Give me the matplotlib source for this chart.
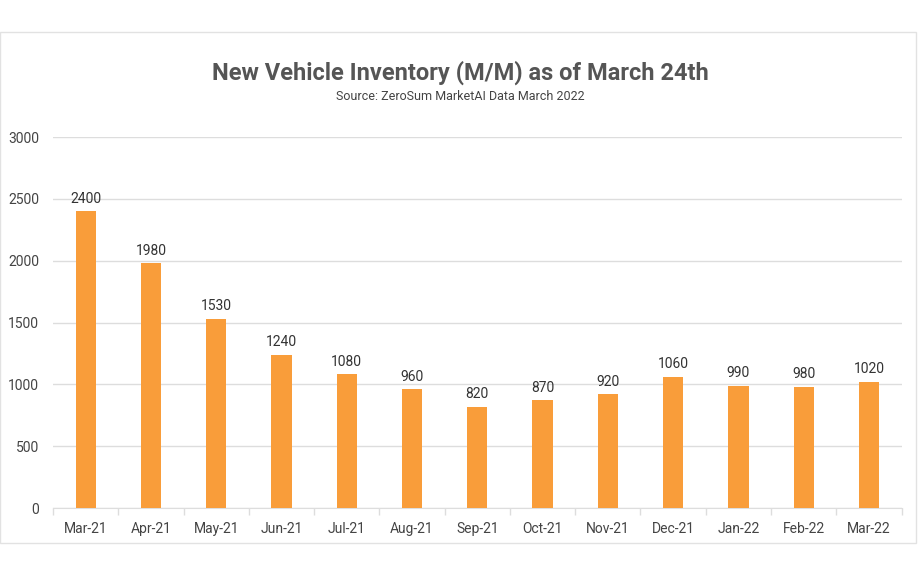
import numpy as np
import matplotlib.pyplot as plt
from matplotlib.patches import Rectangle

plt.rcParams['font.family'] = ['Roboto', 'DejaVu Sans']

# data
months = ["Mar-21", "Apr-21", "May-21", "Jun-21", "Jul-21", "Aug-21", "Sep-21",
          "Oct-21", "Nov-21", "Dec-21", "Jan-22", "Feb-22", "Mar-22"]
inventory = [2400, 1980, 1530, 1240, 1080, 960, 820, 870, 920, 1060, 990, 980, 1020]
y_ticks = [0, 500, 1000, 1500, 2000, 2500, 3000]

BAR = "#F99D3A"
GRID = "#DDDDDD"
TXT = "#444444"

fig = plt.figure(figsize=(9.2, 5.75), dpi=100, facecolor="white")
ax = fig.add_axes([0.0576, 0.1165, 0.9224, 0.6452])

# light frame around the chart card
fig.patches.append(Rectangle((0.0, 0.056), 0.996, 0.888, transform=fig.transFigure,
                             fill=False, edgecolor="#E2E2E2", linewidth=1.0))

x = np.arange(len(months))
ax.bar(x, inventory, width=0.31, color=BAR, zorder=3)
for xi, v in zip(x, inventory):
    ax.text(xi, v + 45, f"{v}", ha="center", va="bottom", fontsize=10, color="#333333")

ax.set_xlim(-0.5, len(months) - 0.5)
ax.set_ylim(0, 3000)
ax.set_yticks(y_ticks)
ax.set_xticks(x)
ax.set_xticklabels(months)
ax.set_xticks(np.arange(-0.5, len(months), 1.0), minor=True)
ax.tick_params(axis="x", which="major", length=0, pad=10, labelsize=10, labelcolor=TXT)
ax.tick_params(axis="x", which="minor", length=5, color=GRID, width=1)
ax.tick_params(axis="y", length=0, pad=10, labelsize=10, labelcolor=TXT)

ax.grid(axis="y", color=GRID, linewidth=1, zorder=0)
for s in ["top", "right", "left"]:
    ax.spines[s].set_visible(False)
ax.spines["bottom"].set_color(GRID)

fig.text(0.5, 0.873, "New Vehicle Inventory (M/M) as of March 24th", ha="center", va="center",
         fontsize=17, fontweight="bold", color="#555555")
fig.text(0.5, 0.833, "Source: ZeroSum MarketAI Data March 2022", ha="center", va="center",
         fontsize=9, color="#444444")

fig.savefig("out.png", dpi=100, facecolor="white")
